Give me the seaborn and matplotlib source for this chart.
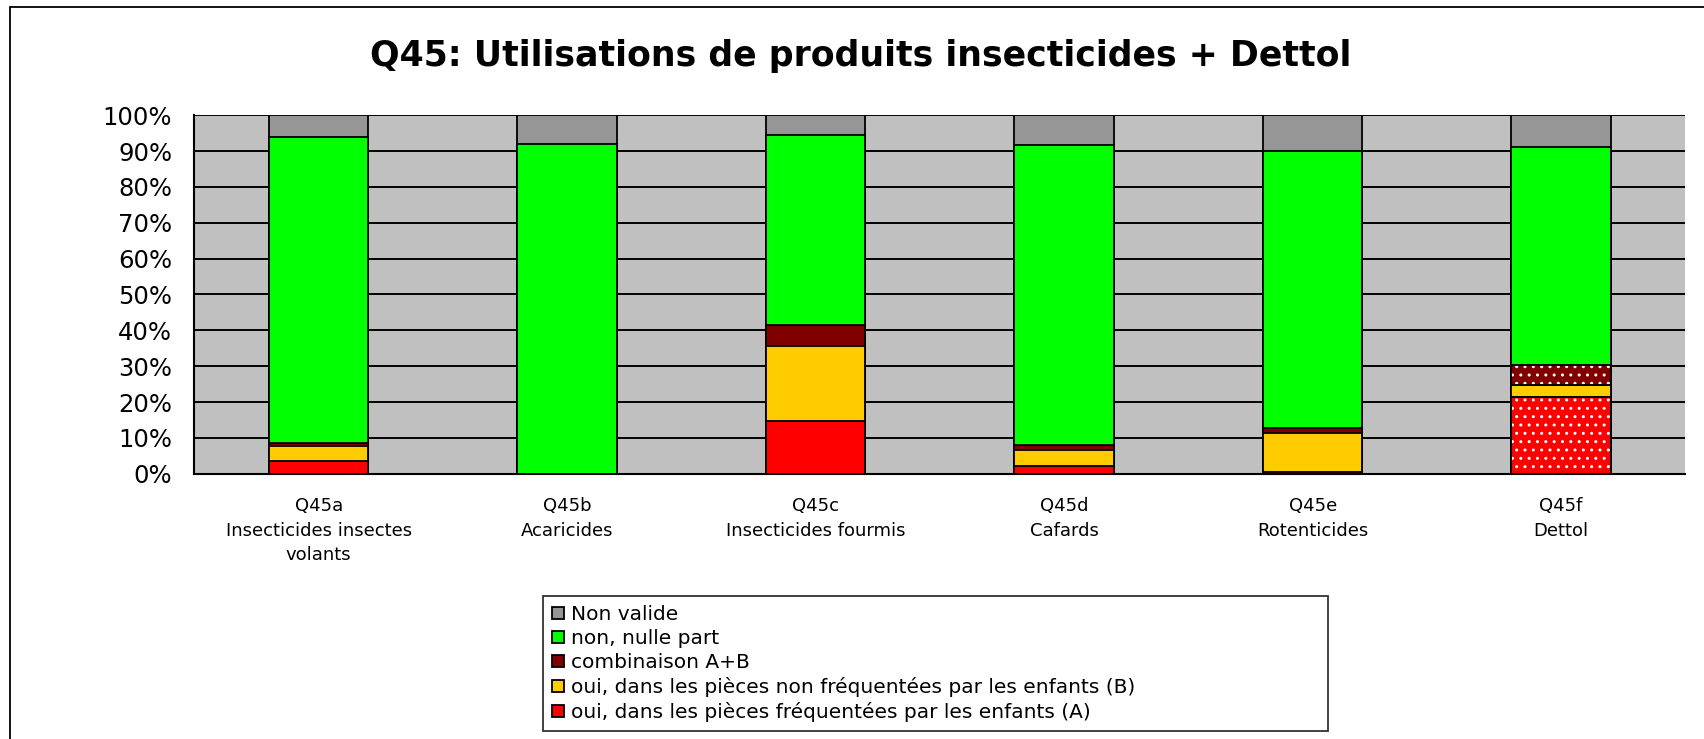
import numpy as np
import pandas as pd
import matplotlib
matplotlib.use("Agg")
import matplotlib.pyplot as plt
import seaborn as sns
from matplotlib.patches import Rectangle
from matplotlib.ticker import PercentFormatter

# data (percent of answers)
categories = ["Q45a\nInsecticides insectes\nvolants", "Q45b\nAcaricides",
              "Q45c\nInsecticides fourmis", "Q45d\nCafards",
              "Q45e\nRotenticides", "Q45f\nDettol"]
oui_A = [3.6, 0.0, 14.7, 2.3, 0.5, 21.5]
oui_B = [4.1, 0.0, 21.0, 4.4, 11.0, 3.2]
comb_AB = [0.9, 0.0, 5.9, 1.2, 1.2, 5.6]
non_nulle = [85.2, 92.0, 52.8, 83.9, 77.3, 60.8]
non_valide = [6.2, 8.0, 5.6, 8.2, 10.0, 8.9]

series_names = ["Non valide", "non, nulle part", "combinaison A+B",
                "oui, dans les pièces non fréquentées par les enfants (B)",
                "oui, dans les pièces fréquentées par les enfants (A)"]
colors = ["#969696", "#00FF00", "#800000", "#FFCC00", "#FF0000"]

df = pd.DataFrame({"cat": categories, "A": oui_A, "B": oui_B, "AB": comb_AB,
                   "non": non_nulle, "nv": non_valide})
# cumulative tops, drawn from the tallest to the smallest
cum = df[["A", "B", "AB", "non", "nv"]].cumsum(axis=1)
layers = ["nv", "non", "AB", "B", "A"]

sns.set_style("white")
plt.rcParams['font.family'] = ['DejaVu Sans']
plt.rcParams['text.color'] = 'black'
plt.rcParams['xtick.color'] = 'black'
plt.rcParams['ytick.color'] = 'black'

fig = plt.figure(figsize=(17.04, 7.39), dpi=100)
ax = fig.add_axes([0.1141, 0.3589, 0.875, 0.4852])
ax.set_facecolor("#C0C0C0")

for col, name, c in zip(layers, series_names, colors):
    sns.barplot(x=df["cat"], y=cum[col], color=c, width=0.4, edgecolor="black",
                linewidth=1.3, saturation=1, label=name, ax=ax, zorder=3)

# dotted fill on the Dettol bar (A and A+B parts)
cont = ax.containers
for top_i, low_i in [(2, 3), (4, None)]:
    p = cont[top_i].patches[5]
    y0 = cont[low_i].patches[5].get_height() if low_i is not None else 0
    ax.add_patch(Rectangle((p.get_x(), y0), p.get_width(), p.get_height() - y0,
                           fill=False, hatch="..", edgecolor="white", lw=0, zorder=4))
    ax.add_patch(Rectangle((p.get_x(), y0), p.get_width(), p.get_height() - y0,
                           fill=False, edgecolor="black", lw=1.3, zorder=5))

ax.set_ylim(0, 100)
ax.set_xlim(-0.5, 5.5)
ax.set_yticks(np.arange(0, 101, 10))
ax.yaxis.set_major_formatter(PercentFormatter(decimals=0))
ax.grid(axis="y", color="black", lw=1.4, zorder=1)
ax.set_axisbelow(True)
ax.set_xlabel("")
ax.set_ylabel("")
ax.set_xticks(range(6))
ax.set_xticklabels(categories, fontsize=13, linespacing=1.45)
ax.set_xticks(np.arange(-0.5, 6, 1), minor=True)
ax.tick_params(axis="x", which="major", length=0, pad=17)
ax.tick_params(axis="x", which="minor", length=6, width=1.3, color="black", direction="out")
ax.tick_params(axis="y", length=7, width=1.3, color="black", direction="out", labelsize=17.5, pad=9)
for s in ["top", "right"]:
    ax.spines[s].set_visible(False)
for s in ["left", "bottom"]:
    ax.spines[s].set_color("black")
    ax.spines[s].set_linewidth(1.5)

fig.text(0.505, 0.924, "Q45: Utilisations de produits insecticides + Dettol",
         ha="center", va="center", fontsize=25, fontweight="bold")

handles, labels = ax.get_legend_handles_labels()
ax.legend_ = None
leg = fig.legend(handles, labels, loc="upper left",
                 bbox_to_anchor=(543 / 1704, 1 - 737 / 739, (1328 - 543) / 1704, (737 - 596) / 739),
                 mode="expand", borderaxespad=0, fontsize=14.5, frameon=True, fancybox=False,
                 edgecolor="black", handlelength=0.6, handleheight=0.6, handletextpad=0.35,
                 labelspacing=0.25, borderpad=0.45)
leg.get_frame().set_linewidth(1.3)

# outer chart border
fig.patches.append(Rectangle((10 / 1704, -0.1), 1.1, 1.1 - 7 / 739, fill=False,
                             edgecolor="black", lw=1.3, transform=fig.transFigure))

fig.savefig("out.png", dpi=100)
